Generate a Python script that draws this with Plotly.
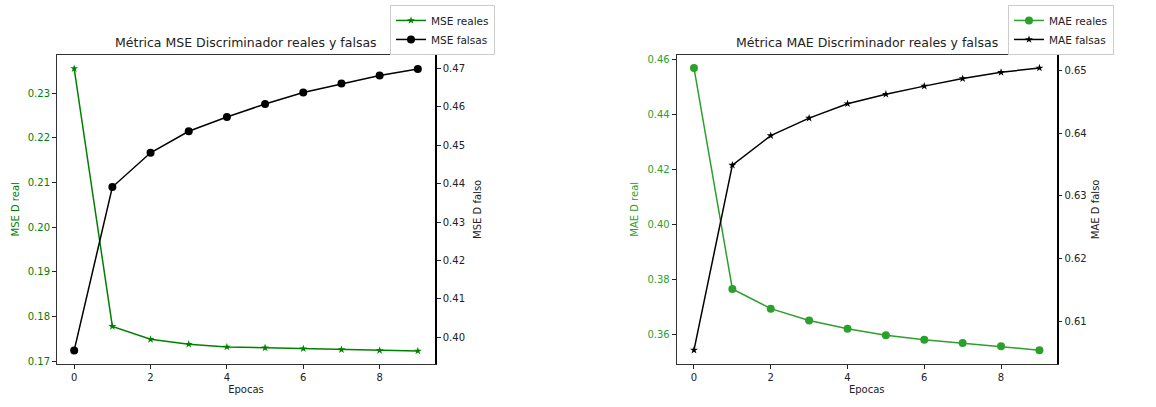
import plotly.graph_objects as go

# Epochs and discriminator metrics
epocas = [0, 1, 2, 3, 4, 5, 6, 7, 8, 9]

mse_reales = [0.2355, 0.1778, 0.1749, 0.1738, 0.1732, 0.1730, 0.1728, 0.1726, 0.1724, 0.1723]
mse_falsas = [0.3966, 0.4391, 0.4480, 0.4536, 0.4573, 0.4607, 0.4637, 0.4660, 0.4681, 0.4698]

mae_reales = [0.4570, 0.3766, 0.3694, 0.3651, 0.3621, 0.3597, 0.3581, 0.3569, 0.3557, 0.3543]
mae_falsas = [0.6054, 0.6349, 0.6396, 0.6424, 0.6447, 0.6462, 0.6475, 0.6487, 0.6497, 0.6504]

mse_real_ticks = [0.17, 0.18, 0.19, 0.20, 0.21, 0.22, 0.23]
mse_falso_ticks = [0.40, 0.41, 0.42, 0.43, 0.44, 0.45, 0.46, 0.47]
mae_real_ticks = [0.36, 0.38, 0.40, 0.42, 0.44, 0.46]
mae_falso_ticks = [0.61, 0.62, 0.63, 0.64, 0.65]
x_ticks = [0, 2, 4, 6, 8]

W, H = 1156, 407
GREEN = "#008000"
TAB_GREEN = "#2ca02c"
FONT = "DejaVu Sans"

fig = go.Figure()

fig.add_trace(go.Scatter(x=epocas, y=mse_reales, name="MSE reales", mode="lines+markers",
                         line=dict(color=GREEN, width=1.5),
                         marker=dict(symbol="star", size=6, color=GREEN),
                         xaxis="x", yaxis="y", legend="legend"))
fig.add_trace(go.Scatter(x=epocas, y=mse_falsas, name="MSE falsas", mode="lines+markers",
                         line=dict(color="black", width=1.5),
                         marker=dict(symbol="circle", size=8, color="black"),
                         xaxis="x", yaxis="y2", legend="legend"))
fig.add_trace(go.Scatter(x=epocas, y=mae_reales, name="MAE reales", mode="lines+markers",
                         line=dict(color=TAB_GREEN, width=1.5),
                         marker=dict(symbol="circle", size=8, color=TAB_GREEN),
                         xaxis="x2", yaxis="y3", legend="legend2"))
fig.add_trace(go.Scatter(x=epocas, y=mae_falsas, name="MAE falsas", mode="lines+markers",
                         line=dict(color="black", width=1.5),
                         marker=dict(symbol="star", size=6, color="black"),
                         xaxis="x2", yaxis="y4", legend="legend2"))

def px_x(p):
    return p / W

def px_y(p):
    return (H - p) / H

dom_y = [px_y(366.5), px_y(54.3)]
dom_x1 = [px_x(57), px_x(435)]
dom_x2 = [px_x(676.7), px_x(1056.7)]

tick_font = dict(family=FONT, size=10, color="#222")
common_x = dict(range=[-0.45, 9.45], tickvals=x_ticks, ticks="outside", ticklen=4,
                tickcolor="#222", showgrid=False, zeroline=False, showline=True,
                linecolor="#333", linewidth=1, mirror=True, tickfont=tick_font,
                title=dict(text="Epocas", font=dict(family=FONT, size=10, color="#222"), standoff=4))

fig.update_layout(
    width=W, height=H,
    margin=dict(l=0, r=0, t=0, b=0),
    paper_bgcolor="white", plot_bgcolor="white",
    font=dict(family=FONT),
    xaxis=dict(domain=dom_x1, anchor="y", **common_x),
    xaxis2=dict(domain=dom_x2, anchor="y3", **common_x),
    yaxis=dict(domain=dom_y, anchor="x", range=[0.1694, 0.2386], tickvals=mse_real_ticks,
               tickformat=".2f", ticks="outside", ticklen=4, tickcolor="#222",
               showgrid=False, zeroline=False, showline=True, linecolor="#333",
               tickfont=dict(family=FONT, size=10, color=GREEN),
               title=dict(text="MSE D real", font=dict(family=FONT, size=10, color=GREEN), standoff=6)),
    yaxis2=dict(overlaying="y", side="right", anchor="x", range=[0.3931, 0.4735],
                tickvals=mse_falso_ticks, tickformat=".2f", ticks="outside", ticklen=4,
                tickcolor="#222", showgrid=False, zeroline=False, showline=True,
                linecolor="black", linewidth=1.5, tickfont=tick_font,
                title=dict(text="MSE D falso", font=dict(family=FONT, size=10, color="#222"), standoff=10)),
    yaxis3=dict(domain=dom_y, anchor="x2", range=[0.3493, 0.4618], tickvals=mae_real_ticks,
                tickformat=".2f", ticks="outside", ticklen=4, tickcolor="#222",
                showgrid=False, zeroline=False, showline=True, linecolor="#333",
                tickfont=dict(family=FONT, size=10, color=TAB_GREEN),
                title=dict(text="MAE D real", font=dict(family=FONT, size=10, color=TAB_GREEN), standoff=6)),
    yaxis4=dict(overlaying="y3", side="right", anchor="x2", range=[0.6032, 0.6525],
                tickvals=mae_falso_ticks, tickformat=".2f", ticks="outside", ticklen=4,
                tickcolor="#222", showgrid=False, zeroline=False, showline=True,
                linecolor="black", linewidth=1.5, tickfont=tick_font,
                title=dict(text="MAE D falso", font=dict(family=FONT, size=10, color="#222"), standoff=6)),
    legend=dict(x=px_x(390), y=px_y(4), xanchor="left", yanchor="top",
                bgcolor="white", bordercolor="#ccc", borderwidth=1,
                font=dict(family=FONT, size=10.5, color="#222"), tracegroupgap=0,
                itemwidth=30),
    legend2=dict(x=px_x(1008), y=px_y(4), xanchor="left", yanchor="top",
                 bgcolor="white", bordercolor="#ccc", borderwidth=1,
                 font=dict(family=FONT, size=10.5, color="#222"), tracegroupgap=0,
                 itemwidth=30),
    showlegend=True,
    annotations=[
        dict(text="Métrica MSE Discriminador reales y falsas", x=px_x(246), y=px_y(42),
             xref="paper", yref="paper", xanchor="center", yanchor="middle",
             showarrow=False, font=dict(family=FONT, size=12.5, color="#222")),
        dict(text="Métrica MAE Discriminador reales y falsas", x=px_x(867), y=px_y(42),
             xref="paper", yref="paper", xanchor="center", yanchor="middle",
             showarrow=False, font=dict(family=FONT, size=12.5, color="#222")),
    ],
)

fig.write_html("out.html")
